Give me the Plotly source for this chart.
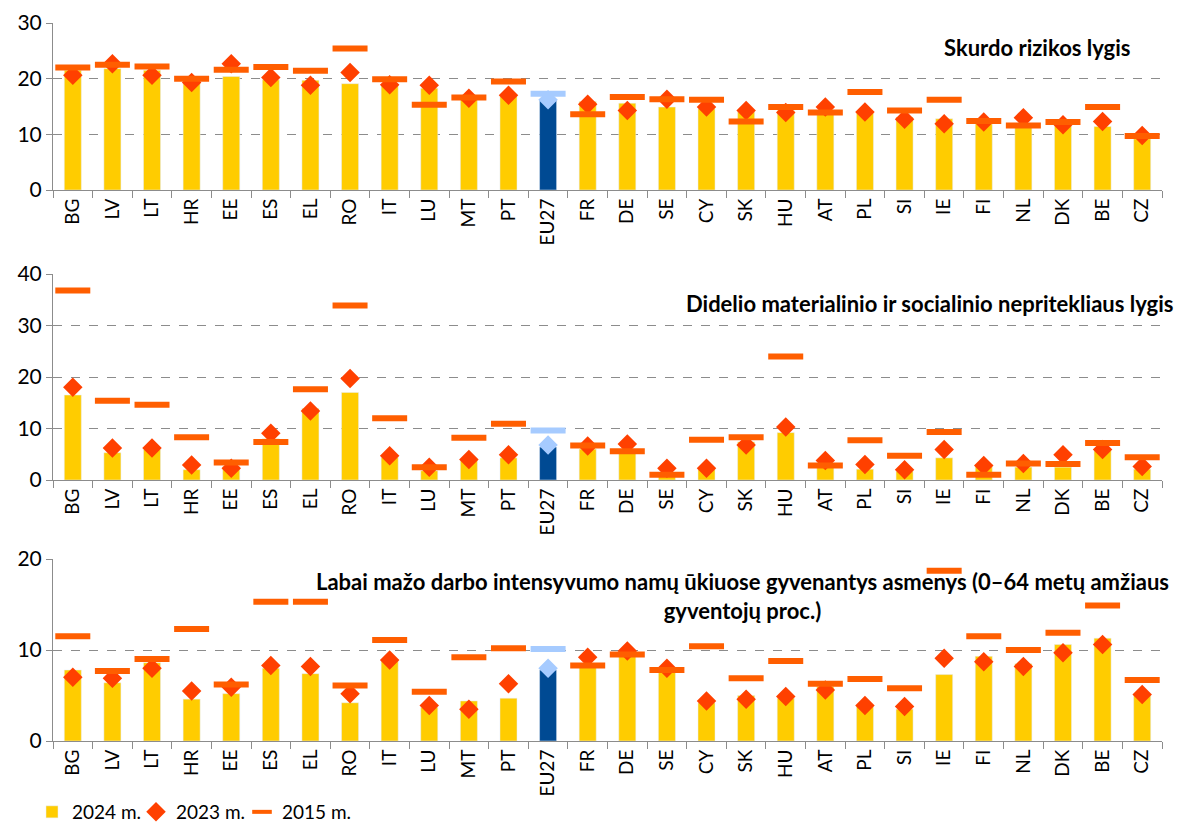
import plotly.graph_objects as go
from plotly.subplots import make_subplots

# Countries (EU27 average highlighted)
countries = ["BG", "LV", "LT", "HR", "EE", "ES", "EL", "RO", "IT", "LU", "MT", "PT", "EU27", "FR",
             "DE", "SE", "CY", "SK", "HU", "AT", "PL", "SI", "IE", "FI", "NL", "DK", "BE", "CZ"]

# Skurdo rizikos lygis
arop_2024 = [21.5, 21.8, 21.5, 19.6, 20.4, 19.8, 19.7, 19.1, 18.9, 18.3, 16.4, 16.9, 16.2, 15.9,
             15.6, 14.9, 14.6, 14.0, 14.3, 13.7, 14.0, 13.1, 12.8, 11.9, 11.3, 11.6, 11.4, 9.2]
arop_2023 = [20.6, 22.7, 20.6, 19.3, 22.7, 20.2, 18.8, 21.1, 18.9, 18.8, 16.5, 17.0, 16.2, 15.4,
             14.3, 16.3, 14.9, 14.3, 13.9, 14.9, 14.0, 12.7, 11.9, 12.2, 13.0, 11.7, 12.3, 9.8]
arop_2015 = [22.0, 22.5, 22.2, 20.0, 21.6, 22.1, 21.4, 25.4, 19.9, 15.3, 16.6, 19.5, 17.3, 13.6,
             16.7, 16.3, 16.2, 12.3, 14.9, 13.9, 17.6, 14.3, 16.2, 12.4, 11.6, 12.2, 14.9, 9.7]

# Didelio materialinio ir socialinio nepritekliaus lygis
smsd_2024 = [16.5, 5.3, 5.9, 2.0, 2.6, 8.0, 13.9, 17.0, 4.4, 1.8, 3.9, 4.3, 6.4, 6.0,
             5.2, 1.3, 2.1, 7.4, 9.2, 2.6, 2.1, 1.7, 4.3, 3.0, 2.5, 2.5, 5.7, 2.1]
smsd_2023 = [18.0, 6.2, 6.2, 2.9, 2.3, 9.1, 13.4, 19.7, 4.7, 2.5, 4.0, 4.9, 6.8, 6.6,
             7.0, 2.3, 2.3, 6.8, 10.3, 3.8, 3.0, 2.0, 5.9, 2.8, 3.2, 4.9, 5.9, 2.6]
smsd_2015 = [36.8, 15.4, 14.6, 8.3, 3.4, 7.4, 17.6, 33.9, 12.0, 2.5, 8.2, 10.9, 9.6, 6.7,
             5.6, 1.0, 7.8, 8.3, 24.0, 2.8, 7.7, 4.7, 9.3, 1.0, 3.2, 3.1, 7.2, 4.4]

# Labai mažo darbo intensyvumo namų ūkiai
lwi_2024 = [7.8, 6.4, 8.6, 4.6, 5.2, 8.0, 7.4, 4.2, 8.8, 3.7, 4.4, 4.7, 7.8, 8.1,
            9.4, 7.6, 4.2, 5.0, 4.7, 6.0, 3.8, 3.5, 7.3, 9.3, 8.5, 10.6, 11.3, 5.0]
lwi_2023 = [7.0, 6.9, 8.0, 5.5, 5.9, 8.3, 8.2, 5.2, 8.9, 3.9, 3.5, 6.3, 8.0, 9.2,
            9.9, 8.0, 4.4, 4.6, 4.9, 5.6, 3.9, 3.8, 9.1, 8.7, 8.2, 9.7, 10.6, 5.1]
lwi_2015 = [11.5, 7.7, 9.0, 12.3, 6.2, 15.3, 15.3, 6.1, 11.1, 5.4, 9.2, 10.2, 10.1, 8.3,
            9.5, 7.8, 10.4, 6.9, 8.8, 6.3, 6.8, 5.8, 18.7, 11.5, 10.0, 11.9, 14.9, 6.7]

panels = [
    (arop_2024, arop_2023, arop_2015, 30),
    (smsd_2024, smsd_2023, smsd_2015, 40),
    (lwi_2024, lwi_2023, lwi_2015, 20),
]

titles = [
    "Skurdo rizikos lygis",
    "Didelio materialinio ir socialinio nepritekliaus lygis",
    "Labai mažo darbo intensyvumo namų ūkiuose gyvenantys asmenys (0–64 metų amžiaus<br>gyventojų proc.)",
]

YELLOW = "#FFCC00"
NAVY = "#004A93"
RED = "#FF4000"
ORANGE = "#FF5E00"
LIGHT = "#A6CBFF"
GRID = "#8C8C8C"
FONT = "Lato"

bar_colors = [NAVY if c == "EU27" else YELLOW for c in countries]
dia_colors = [LIGHT if c == "EU27" else RED for c in countries]
dash_colors = [LIGHT if c == "EU27" else ORANGE for c in countries]

fig = make_subplots(rows=3, cols=1)

for i, (v24, v23, v15, ymax) in enumerate(panels):
    row = i + 1
    fig.add_trace(go.Bar(x=countries, y=v24, name="2024 m.", marker_color=bar_colors,
                         width=0.43, showlegend=False), row=row, col=1)
    fig.add_trace(go.Scatter(x=countries, y=v23, name="2023 m.", mode="markers",
                             marker=dict(symbol="diamond", size=15, color=dia_colors),
                             showlegend=False), row=row, col=1)
    fig.add_trace(go.Scatter(x=countries, y=v15, name="2015 m.", mode="markers",
                             marker=dict(symbol="line-ew", size=25,
                                         line=dict(width=6, color=dash_colors)),
                             showlegend=False), row=row, col=1)
    fig.update_yaxes(range=[0, ymax], dtick=10, showgrid=True, gridcolor=GRID, griddash="dash",
                     gridwidth=1, showline=True, linecolor=GRID, ticks="outside", ticklen=6,
                     tickcolor=GRID, zeroline=False, tickfont=dict(size=21, color="#000"),
                     automargin=False, row=row, col=1)
    fig.update_xaxes(tickangle=-90, showline=True, linecolor=GRID, ticks="outside",
                     tickson="boundaries", ticklen=7, tickcolor=GRID, showgrid=False,
                     range=[-0.5, len(countries) - 0.5],
                     tickfont=dict(size=19, color="#000"), automargin=False, row=row, col=1)

# legend keys, each in its own legend so they can sit close together like the original
fig.add_trace(go.Bar(x=[countries[0]], y=[None], name="2024 m.", marker_color=YELLOW,
                     width=0.43, legend="legend"), row=1, col=1)
fig.add_trace(go.Scatter(x=[countries[0]], y=[None], name="2023 m.", mode="markers",
                         marker=dict(symbol="diamond", size=15, color=RED),
                         legend="legend2"), row=1, col=1)
fig.add_trace(go.Scatter(x=[countries[0]], y=[None], name="2015 m.", mode="markers",
                         marker=dict(symbol="line-ew", size=14, line=dict(width=4, color=ORANGE)),
                         legend="legend3"), row=1, col=1)

H = 824.0
W = 1109.0
L = 53


def legend_at(px):
    return dict(orientation="h", x=(px - L) / W, y=1 - 812 / H, yanchor="middle",
                xanchor="left", font=dict(size=19), itemwidth=30, bgcolor="rgba(0,0,0,0)")


fig.update_layout(
    width=1181, height=824,
    margin=dict(l=L, r=19, t=0, b=0, autoexpand=False),
    plot_bgcolor="white", paper_bgcolor="white",
    font=dict(family=FONT, color="#000"),
    barmode="overlay",
    yaxis=dict(domain=[1 - 190 / H, 1 - 23 / H]),
    yaxis2=dict(domain=[1 - 480 / H, 1 - 274 / H]),
    yaxis3=dict(domain=[1 - 741 / H, 1 - 559 / H]),
    legend=legend_at(32),
    legend2=legend_at(136),
    legend3=legend_at(242),
)

fig.add_annotation(text="<b>" + titles[0] + "</b>", xref="paper", yref="paper",
                   x=(1132 - L) / W, y=1 - 48 / H, xanchor="right", yanchor="middle",
                   showarrow=False, font=dict(size=22))
fig.add_annotation(text="<b>" + titles[1] + "</b>", xref="paper", yref="paper",
                   x=(1175 - L) / W, y=1 - 303 / H, xanchor="right", yanchor="middle",
                   showarrow=False, font=dict(size=22))
fig.add_annotation(text="<b>" + titles[2].replace("<br>", "</b><br><b>") + "</b>",
                   xref="paper", yref="paper",
                   x=(742 - L) / W, y=1 - 596 / H, xanchor="center", yanchor="middle",
                   align="center", showarrow=False, font=dict(size=22))

# remove the default page margin so the figure fills the window exactly
fig.write_html("out.html", config={"displayModeBar": False},
               post_script="document.body.style.margin='0';")
